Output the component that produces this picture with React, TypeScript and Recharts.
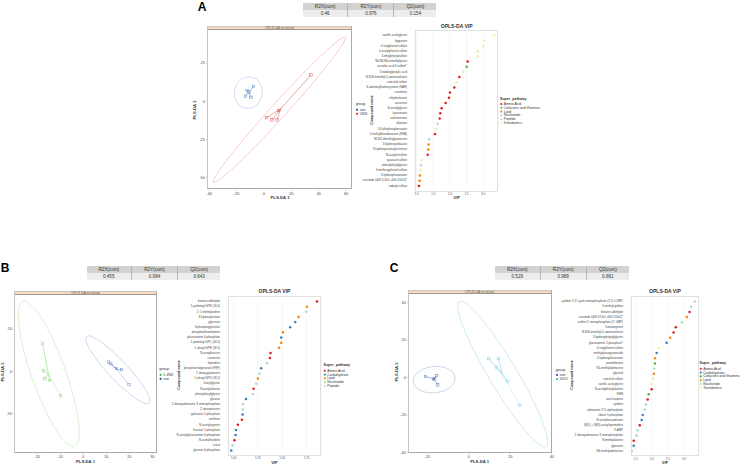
import React from 'react';
import { ScatterChart, Scatter, XAxis, YAxis, CartesianGrid } from 'recharts';

const FONT = '"Liberation Sans", Arial, sans-serif';

const PATHWAY_COLORS: Record<string, string> = {
  'Amino Acid': '#e41a1c',
  Carbohydrate: '#377eb8',
  'Cofactors and Vitamins': '#4daf4a',
  Lipid: '#ff7f00',
  Nucleotide: '#a6dcc6',
  Peptide: '#c6c9e6',
  Xenobiotics: '#e9efa6',
};

const tableHeaders = ['R2X(cum)', 'R2Y(cum)', 'Q2(cum)'];

// ---------- panel A ----------
const tableA = ['0.46', '0.976', '0.154'];
const conA = [
  { x: -7.6, y: 9.6 }, { x: -12.4, y: 7 }, { x: -13.6, y: 3.3 }, { x: -9.5, y: 2.6 }, { x: -11, y: 6 },
];
const unxA = [
  { x: 34.3, y: 17.2 }, { x: 1.7, y: -10.8 }, { x: 5.8, y: -12.2 }, { x: 9.5, y: -12.2 }, { x: 10.7, y: -6.1 },
];
const ellConA = { cx: -11.4, cy: 5.6, ux: 9.5, uy: 4, vx: -3.5, vy: 9.5 };
const ellUnxA = { cx: 11.25, cy: -5.55, ux: 48, uy: 47.35, vx: 4.1, vy: -3.3 };

const vipNamesA = [
  'vanillic acid glycine', 'hippurate', '4-vinylphenol sulfate', '4-acetylphenol sulfate', '4-ethylphenylsulfate',
  'N6,N6,N6-trimethyllysine', 'ascorbic acid 3-sulfate*', '3-indoleglyoxylic acid', 'N,N,N-trimethyl-5-aminovalerate',
  'catechol sulfate', 'S-adenosylhomocysteine (SAH)', 'creatinine', 'ethylmalonate', 'sarcosine', 'N-acetylglycine',
  'kynurenate', 'xanthurenate', 'allantoin', '3,4-dihydroxybenzoate', '5-methylthioadenosine (MTA)',
  'N2,N2-dimethylguanosine', '3-hydroxysebacate', '3-hydroxyoctanoylcarnitine', 'N-acetylcitrulline',
  'guaiacol sulfate', 'phenylalanylglycine', '4-methoxyphenol sulfate', '5-hydroxyhexanoate',
  'ceramide (d18:1/14:0, d16:1/16:0)*', 'indoxyl sulfate',
];
const vipValuesA = [
  3.33, 3.03, 3.0, 2.83, 2.83, 2.53, 2.5, 2.4, 2.28, 2.2, 2.13, 2.0, 1.97, 1.87, 1.75,
  1.71, 1.69, 1.63, 1.59, 1.55, 1.38, 1.36, 1.35, 1.33, 1.15, 1.13, 1.12, 1.1, 1.09, 1.07,
];
const vipPathsA = [
  'Xenobiotics', 'Xenobiotics', 'Xenobiotics', 'Xenobiotics', 'Xenobiotics', 'Amino Acid', 'Cofactors and Vitamins',
  'Xenobiotics', 'Amino Acid', 'Xenobiotics', 'Amino Acid', 'Amino Acid', 'Amino Acid', 'Amino Acid', 'Amino Acid',
  'Amino Acid', 'Amino Acid', 'Nucleotide', 'Xenobiotics', 'Amino Acid', 'Nucleotide', 'Lipid', 'Lipid', 'Amino Acid',
  'Xenobiotics', 'Peptide', 'Xenobiotics', 'Lipid', 'Lipid', 'Amino Acid',
];
const legendA = ['Amino Acid', 'Cofactors and Vitamins', 'Lipid', 'Nucleotide', 'Peptide', 'Xenobiotics'];

// ---------- panel B ----------
const tableB = ['0.455', '0.984', '0.643'];
const nxB = [
  { x: -17.7, y: 13.4 }, { x: -17.2, y: 0.3 }, { x: -16.7, y: -3.5 }, { x: -14.6, y: -4.3 }, { x: -9.8, y: -11.6 },
];
const conB = [
  { x: 11.1, y: 4.4 }, { x: 12, y: 3.6 }, { x: 14.4, y: 1.4 }, { x: 16.7, y: 0.8 }, { x: 19.9, y: -6.3 },
];
const ellNxB = { cx: -15, cy: -1.2, ux: -11.25, uy: 34.3, vx: 7.0, vy: 2.7 };
const ellConB = { cx: 15, cy: 0.75, ux: 13.6, uy: -15.75, vx: 3.0, vy: 3.1 };

const vipNamesB = [
  'betaine aldehyde', '1-palmitoyl-GPE (16:0)', '2\'-O-methyluridine', '3-hydroxylaurate', 'glycerate',
  '3-phosphoglycerate', 'phosphoethanolamine', 'glucosamine 6-phosphate', '1-palmitoyl-GPC (16:0)',
  '1-oleoyl-GPE (18:1)', 'N-acetylleucine', 'carnosine', 'thymidine', 'phosphoenolpyruvate (PEP)',
  '2\'-deoxyguanosine', '1-oleoyl-GPG (18:1)', 'leucylglycine', 'N-acetylalanine', 'phenylalanylglycine',
  'glucose', '2\'-deoxyadenosine 3\'-monophosphate', '2\'-deoxyinosine', 'galactose 1-phosphate', 'ornithine',
  'N-acetylarginine', 'fructose 1-phosphate', 'N-acetylglucosamine 6-phosphate', 'N-acetylhistidine', 'uracil',
  'glucose 6-phosphate',
];
const vipValuesB = [
  1.858, 1.755, 1.748, 1.669, 1.635, 1.583, 1.508, 1.491, 1.491, 1.467, 1.381, 1.374, 1.344, 1.285, 1.267,
  1.251, 1.234, 1.206, 1.2, 1.128, 1.097, 1.097, 1.093, 1.086, 1.045, 1.025, 1.021, 1.01, 0.99, 0.976,
];
const vipPathsB = [
  'Amino Acid', 'Lipid', 'Nucleotide', 'Lipid', 'Carbohydrate', 'Carbohydrate', 'Lipid', 'Carbohydrate', 'Lipid',
  'Lipid', 'Amino Acid', 'Amino Acid', 'Nucleotide', 'Carbohydrate', 'Nucleotide', 'Lipid', 'Peptide', 'Amino Acid',
  'Peptide', 'Carbohydrate', 'Nucleotide', 'Nucleotide', 'Carbohydrate', 'Amino Acid', 'Amino Acid', 'Carbohydrate',
  'Carbohydrate', 'Amino Acid', 'Nucleotide', 'Carbohydrate',
];
const legendB = ['Amino Acid', 'Carbohydrate', 'Lipid', 'Nucleotide', 'Peptide'];

// ---------- panel C ----------
const tableC = ['0.529', '0.989', '0.861'];
const conC = [
  { x: -21, y: 0.5 }, { x: -16.5, y: -0.5 }, { x: -15.5, y: 1 }, { x: -15, y: -4 }, { x: -17, y: -1 },
];
const uuoC = [
  { x: 9.6, y: 10 }, { x: 14.2, y: 10 }, { x: 13.3, y: 5.5 }, { x: 18.8, y: -2.1 }, { x: 24.6, y: -14.9 },
];
const ellConC = { cx: -16.8, cy: -1.2, ux: 10, uy: 1.5, vx: -1.2, vy: 6.9 };
const ellUuoC = { cx: 16.3, cy: 1.85, ux: 20.9, uy: -38.65, vx: 5.8, vy: 3.84 };

const vipNamesC = [
  'cytidine 2\',3\'-cyclic monophosphate (2\',3\'-cCMP)', '5-methylcytidine', 'betaine aldehyde',
  'ceramide (d18:1/14:0, d16:1/16:0)*', 'uridine 2\'-monophosphate (2\'-UMP)', 'homoarginine',
  'N,N,N-trimethyl-5-aminovalerate', '3-hydroxybutyrylglycine', 'glucosamine 1-phosphate*', '4-vinylphenol sulfate',
  'methylglucopyranoside', '2-hydroxydecanoate', 'pantothenate', 'N1-methyladenosine', 'glycerol', 'catechol sulfate',
  'vanillic acid glycine', 'N-acetylphenylalanine', 'FMN', 'saccharopine', 'cytidine', 'adenosine 3\',5\'-diphosphate',
  'ribose 5-phosphate', 'N-acetylneuraminate', '(N(1) + N(8))-acetylspermidine', '3\'-AMP',
  '2\'-deoxyadenosine 3\'-monophosphate', 'N-methylalanine', 'glycerate', 'N6-methyladenosine',
];
const vipValuesC = [
  3.336, 3.221, 3.172, 3.088, 2.933, 2.748, 2.676, 2.571, 2.46, 2.212, 2.15, 2.098, 2.098, 2.076, 2.067,
  2.045, 2.005, 1.995, 1.902, 1.872, 1.819, 1.779, 1.717, 1.686, 1.624, 1.562, 1.531, 1.438, 1.438, 1.385,
];
const vipPathsC = [
  'Nucleotide', 'Nucleotide', 'Amino Acid', 'Lipid', 'Nucleotide', 'Amino Acid', 'Amino Acid', 'Lipid', 'Carbohydrate',
  'Xenobiotics', 'Carbohydrate', 'Lipid', 'Cofactors and Vitamins', 'Nucleotide', 'Lipid', 'Xenobiotics', 'Xenobiotics',
  'Amino Acid', 'Cofactors and Vitamins', 'Amino Acid', 'Nucleotide', 'Nucleotide', 'Carbohydrate', 'Carbohydrate',
  'Amino Acid', 'Nucleotide', 'Nucleotide', 'Amino Acid', 'Carbohydrate', 'Nucleotide',
];
const legendC = ['Amino Acid', 'Carbohydrate', 'Cofactors and Vitamins', 'Lipid', 'Nucleotide', 'Xenobiotics'];

type Pt = { x: number; y: number };
type Ell = { cx: number; cy: number; ux: number; uy: number; vx: number; vy: number };

function ellipsePoints(e: Ell): Pt[] {
  const pts: Pt[] = [];
  for (let i = 0; i <= 90; i++) {
    const t = (i / 90) * 2 * Math.PI;
    pts.push({ x: e.cx + e.ux * Math.cos(t) + e.vx * Math.sin(t), y: e.cy + e.uy * Math.cos(t) + e.vy * Math.sin(t) });
  }
  return pts;
}

function starPoints(points: Pt[]): Pt[] {
  const c = {
    x: points.reduce((s, p) => s + p.x, 0) / points.length,
    y: points.reduce((s, p) => s + p.y, 0) / points.length,
  };
  const out: Pt[] = [];
  points.forEach((p) => {
    out.push(c, p);
  });
  return out;
}

const noShape = () => <g />;

type Group = { points: Pt[]; ell: Ell; color: string; light: string };
type Box = { x0: number; y0: number; x1: number; y1: number };

function Table({ left, top, width, values }: { left: number; top: number; width: number; values: string[] }) {
  const ws = [0.34, 0.345, 0.315].map((f) => f * width);
  const cell = (w: number, bg: string, txt: string, last: boolean) => (
    <div
      key={txt}
      style={{
        width: w, height: 7.3, background: bg, fontSize: 4.6, color: '#333', textAlign: 'center', lineHeight: '7.3px',
        borderRight: last ? 'none' : '0.6px solid #b5b5b5', boxSizing: 'border-box',
      }}
    >
      {txt}
    </div>
  );
  return (
    <div style={{ position: 'absolute', left, top, width }}>
      <div style={{ display: 'flex' }}>{tableHeaders.map((h, i) => cell(ws[i], '#d2d2d2', h, i === 2))}</div>
      <div style={{ display: 'flex' }}>{values.map((v, i) => cell(ws[i], '#ededed', v, i === 2))}</div>
    </div>
  );
}

function PlsPlot({ box, stripTop, groups, xDomain, yDomain, xTicks, yTicks }: {
  box: Box; stripTop: number; groups: Group[]; xDomain: number[]; yDomain: number[]; xTicks: number[]; yTicks: number[];
}) {
  const yw = 10;
  const xh = 9;
  const mt = 3;
  const mr = 5;
  const left = box.x0 - yw;
  const width = box.x1 - left + mr;
  const height = box.y1 - box.y0 + xh + mt;
  const tickStyle = { fontSize: 3.8, fill: '#444' };
  return (
    <>
      <div
        style={{
          position: 'absolute', left: box.x0, top: stripTop, width: box.x1 - box.x0, height: box.y1 - stripTop,
          borderLeft: '0.8px solid #c4c4c4', borderTop: '0.8px solid #c4c4c4', borderRight: '1.6px solid #a9a9a9',
          borderBottom: '1.6px solid #a9a9a9', boxSizing: 'border-box',
        }}
      >
        <div
          style={{
            height: box.y0 - stripTop, background: '#fdd9bb', borderBottom: '0.6px solid #9a9a9a', fontSize: 3.4,
            lineHeight: `${box.y0 - stripTop}px`, textAlign: 'center', color: '#666', boxSizing: 'border-box',
          }}
        >
          OPLS-DA on group
        </div>
      </div>
      <div style={{ position: 'absolute', left, top: box.y0 - mt }}>
        <ScatterChart width={width} height={height} margin={{ top: mt, right: mr, bottom: 0, left: 0 }}>
          <XAxis
            type="number" dataKey="x" domain={xDomain} ticks={xTicks} allowDataOverflow height={xh} interval={0}
            tick={tickStyle} tickSize={1.2} tickMargin={1} axisLine={false} tickLine={{ stroke: '#888', strokeWidth: 0.4 }}
          />
          <YAxis
            type="number" dataKey="y" domain={yDomain} ticks={yTicks} allowDataOverflow width={yw} interval={0}
            tick={tickStyle} tickSize={1.2} tickMargin={1} axisLine={false} tickLine={{ stroke: '#888', strokeWidth: 0.4 }}
          />
          {groups.map((g, i) => (
            <Scatter
              key={`e${i}`} data={ellipsePoints(g.ell)} line={{ stroke: g.light, strokeWidth: 0.6 }} lineJointType="linear"
              shape={noShape} isAnimationActive={false}
            />
          ))}
          {groups.map((g, i) => (
            <Scatter
              key={`s${i}`} data={starPoints(g.points)} line={{ stroke: g.color, strokeWidth: 0.4, strokeOpacity: 0.7 }}
              shape={noShape} isAnimationActive={false}
            />
          ))}
          {groups.map((g, i) => (
            <Scatter
              key={`p${i}`} data={g.points} isAnimationActive={false}
              shape={(p: any) => (
                <rect x={p.cx - 1.2} y={p.cy - 1.2} width={2.4} height={2.4} fill="none" stroke={g.color} strokeWidth={0.45} />
              )}
            />
          ))}
        </ScatterChart>
      </div>
    </>
  );
}

const NameTick = (props: any) => (
  <text x={props.x} y={props.y} textAnchor="end" dominantBaseline="middle" fontSize={2.9} fill="#444">
    {props.payload.value}
  </text>
);

function VipPlot({ names, values, paths, frame, domain, ticks, digits }: {
  names: string[]; values: number[]; paths: string[]; frame: Box; domain: number[]; ticks: number[]; digits: number;
}) {
  const data = names.map((n, i) => ({ name: n, vip: values[i], path: paths[i] }));
  const pad = (frame.y1 - frame.y0) * 0.6 / 31.2;
  const plotTop = frame.y0 + pad;
  const plotBottom = frame.y1 - pad;
  const yw = 110;
  const xh = 7;
  const left = frame.x0 - yw;
  const top = plotTop;
  const width = frame.x1 - left + 4;
  const height = frame.y1 - top + xh;
  return (
    <>
      <div
        style={{
          position: 'absolute', left: frame.x0, top: frame.y0, width: frame.x1 - frame.x0, height: frame.y1 - frame.y0,
          border: '0.6px solid #e0e0e0', boxSizing: 'border-box',
        }}
      />
      <div style={{ position: 'absolute', left, top }}>
        <ScatterChart width={width} height={height} margin={{ top: 0, right: 4, bottom: frame.y1 - plotBottom, left: 0 }}>
          <CartesianGrid horizontal={false} stroke="#ececec" strokeWidth={0.5} />
          <XAxis
            type="number" dataKey="vip" domain={domain} ticks={ticks} allowDataOverflow height={xh} interval={0}
            tick={{ fontSize: 3, fill: '#555' }} tickSize={1.2} tickMargin={pad - 0.2} axisLine={false}
            tickLine={false} tickFormatter={(v: number) => v.toFixed(digits)}
          />
          <YAxis
            type="category" dataKey="name" width={yw} interval={0} reversed axisLine={false} tickLine={false}
            tick={NameTick} tickMargin={2}
          />
          <Scatter
            data={data} isAnimationActive={false}
            shape={(p: any) => <circle cx={p.cx} cy={p.cy} r={1.25} fill={PATHWAY_COLORS[p.payload.path]} />}
          />
        </ScatterChart>
      </div>
    </>
  );
}

function PathwayLegend({ x, y, items }: { x: number; y: number; items: string[] }) {
  return (
    <g>
      <text x={x} y={y} fontSize={3.6} fontWeight="bold" fill="#333" dominantBaseline="middle">Super_pathway</text>
      {items.map((it, i) => (
        <g key={it}>
          <circle cx={x + 1.3} cy={y + 5.3 + i * 3.8} r={1.05} fill={PATHWAY_COLORS[it]} />
          <text x={x + 3.8} y={y + 5.4 + i * 3.8} fontSize={3.5} fill="#333" dominantBaseline="middle">{it}</text>
        </g>
      ))}
    </g>
  );
}

function GroupLegend({ x, y, items }: { x: number; y: number; items: { label: string; color: string }[] }) {
  return (
    <g>
      <text x={x} y={y} fontSize={3.8} fill="#333" dominantBaseline="middle">group</text>
      {items.map((it, i) => (
        <g key={it.label}>
          <circle cx={x + 1.3} cy={y + 5.5 + i * 4} r={1.1} fill={it.color} />
          <text x={x + 4} y={y + 5.6 + i * 4} fontSize={3.6} fill="#333" dominantBaseline="middle">{it.label}</text>
        </g>
      ))}
    </g>
  );
}

const BLUE = '#2456a6';
const RED = '#e3262b';
const GREEN = '#41b33a';
const CYAN = '#29b5d3';

export default function App() {
  const groupsA: Group[] = [
    { points: conA, ell: ellConA, color: '#4a78bd', light: '#a9c3e5' },
    { points: unxA, ell: ellUnxA, color: '#e8474b', light: '#f6a9a9' },
  ];
  const groupsB: Group[] = [
    { points: nxB, ell: ellNxB, color: '#7fd36f', light: '#bfe9b2' },
    { points: conB, ell: ellConB, color: '#5a80c6', light: '#a9bfe5' },
  ];
  const groupsC: Group[] = [
    { points: conC, ell: ellConC, color: '#4a72b8', light: '#a3b9e0' },
    { points: uuoC, ell: ellUuoC, color: '#6fcbe0', light: '#a9e0ec' },
  ];
  return (
    <div style={{ position: 'fixed', left: 0, top: 0, width: 745, height: 465, background: '#fff', overflow: 'hidden', fontFamily: FONT }}>
      <Table left={303} top={2.7} width={133.5} values={tableA} />
      <Table left={86.5} top={265.7} width={133.7} values={tableB} />
      <Table left={495} top={265.7} width={134} values={tableC} />

      <PlsPlot
        box={{ x0: 206.7, y0: 29.5, x1: 352.3, y1: 189.3 }} stripTop={25.7} groups={groupsA}
        xDomain={[-41.6, 64.7]} yDomain={[-57.8, 46.5]} xTicks={[-40, -20, 0, 20, 40, 60]} yTicks={[-50, -25, 0, 25]}
      />
      <PlsPlot
        box={{ x0: 14.3, y0: 294.3, x1: 156.7, y1: 453.3 }} stripTop={291} groups={groupsB}
        xDomain={[-30.1, 31.8]} yDomain={[-38.6, 36.6]} xTicks={[-20, -10, 0, 10, 20, 30]} yTicks={[-20, 0, 20]}
      />
      <PlsPlot
        box={{ x0: 407.5, y0: 293.3, x1: 551.7, y1: 453.3 }} stripTop={290} groups={groupsC}
        xDomain={[-29.4, 40.2]} yDomain={[-40.3, 45]} xTicks={[-20, 0, 20, 40]} yTicks={[-40, -20, 0, 20, 40]}
      />

      <VipPlot
        names={vipNamesA} values={vipValuesA} paths={vipPathsA} frame={{ x0: 415, y0: 30, x1: 498.3, y1: 191.7 }}
        domain={[0.95, 3.45]} ticks={[1, 1.5, 2, 2.5, 3]} digits={1}
      />
      <VipPlot
        names={vipNamesB} values={vipValuesB} paths={vipPathsB} frame={{ x0: 227.8, y0: 296, x1: 321, y1: 456.2 }}
        domain={[0.943, 1.902]} ticks={[1, 1.25, 1.5, 1.75]} digits={2}
      />
      <VipPlot
        names={vipNamesC} values={vipValuesC} paths={vipPathsC} frame={{ x0: 631, y0: 295.5, x1: 699, y1: 456.2 }}
        domain={[1.354, 3.466]} ticks={[1.5, 2, 2.5, 3]} digits={1}
      />

      <svg width={745} height={465} style={{ position: 'absolute', left: 0, top: 0, pointerEvents: 'none' }} fontFamily={FONT}>
        <text x={202} y={7.5} fontSize={12} fontWeight="bold" textAnchor="middle" dominantBaseline="middle">A</text>
        <text x={5} y={268.5} fontSize={12} fontWeight="bold" textAnchor="middle" dominantBaseline="middle">B</text>
        <text x={394} y={268.5} fontSize={12} fontWeight="bold" textAnchor="middle" dominantBaseline="middle">C</text>

        <text x={280} y={198} fontSize={4.2} fontWeight="bold" textAnchor="middle" dominantBaseline="middle" fill="#333">PLS-DA 1</text>
        <text transform="translate(194.5,110) rotate(-90)" fontSize={4.2} fontWeight="bold" textAnchor="middle" dominantBaseline="middle" fill="#333">PLS-DA 2</text>
        <text x={85.5} y={462.3} fontSize={4.2} fontWeight="bold" textAnchor="middle" dominantBaseline="middle" fill="#333">PLS-DA 1</text>
        <text transform="translate(3.2,372) rotate(-90)" fontSize={4.2} fontWeight="bold" textAnchor="middle" dominantBaseline="middle" fill="#333">PLS-DA 2</text>
        <text x={479.6} y={461.8} fontSize={4.2} fontWeight="bold" textAnchor="middle" dominantBaseline="middle" fill="#333">PLS-DA 1</text>
        <text transform="translate(396.5,372) rotate(-90)" fontSize={4.2} fontWeight="bold" textAnchor="middle" dominantBaseline="middle" fill="#333">PLS-DA 2</text>

        <text x={456.7} y={26.5} fontSize={5} fontWeight="bold" textAnchor="middle" dominantBaseline="middle" fill="#333">OPLS-DA VIP</text>
        <text x={274.5} y={292} fontSize={5} fontWeight="bold" textAnchor="middle" dominantBaseline="middle" fill="#333">OPLS-DA VIP</text>
        <text x={665} y={291.3} fontSize={5} fontWeight="bold" textAnchor="middle" dominantBaseline="middle" fill="#333">OPLS-DA VIP</text>

        <text x={456.7} y={198.3} fontSize={4} fontWeight="bold" textAnchor="middle" dominantBaseline="middle" fill="#333">VIP</text>
        <text x={274.4} y={462.8} fontSize={4} fontWeight="bold" textAnchor="middle" dominantBaseline="middle" fill="#333">VIP</text>
        <text x={665} y={462.8} fontSize={4} fontWeight="bold" textAnchor="middle" dominantBaseline="middle" fill="#333">VIP</text>

        <text transform="translate(372,110) rotate(-90)" fontSize={3.6} fontWeight="bold" textAnchor="middle" dominantBaseline="middle" fill="#333">Compound name</text>
        <text transform="translate(179.5,375) rotate(-90)" fontSize={3.6} fontWeight="bold" textAnchor="middle" dominantBaseline="middle" fill="#333">Compound name</text>
        <text transform="translate(572,375) rotate(-90)" fontSize={3.6} fontWeight="bold" textAnchor="middle" dominantBaseline="middle" fill="#333">Compound name</text>

        <GroupLegend x={355.7} y={104.3} items={[{ label: 'con', color: BLUE }, { label: 'UNX', color: RED }]} />
        <GroupLegend x={159.3} y={369.3} items={[{ label: '1-4NX', color: GREEN }, { label: 'con', color: BLUE }]} />
        <GroupLegend x={555.7} y={369.5} items={[{ label: 'con', color: BLUE }, { label: 'UUO', color: CYAN }]} />

        <PathwayLegend x={500} y={98.7} items={legendA} />
        <PathwayLegend x={323.5} y={365.5} items={legendB} />
        <PathwayLegend x={699.5} y={363.5} items={legendC} />
      </svg>
    </div>
  );
}
